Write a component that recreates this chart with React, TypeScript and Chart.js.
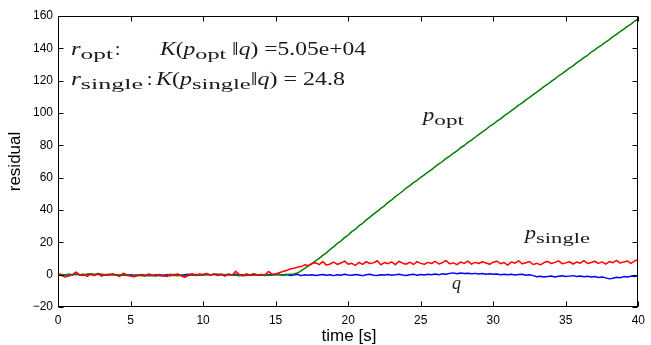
import React, { useEffect, useRef } from "react";
import { Chart, registerables } from "chart.js";

Chart.register(...registerables);

const TIME_STEP = 0.25;

const X_TICKS = [0, 5, 10, 15, 20, 25, 30, 35, 40];
const Y_TICKS = [-20, 0, 20, 40, 60, 80, 100, 120, 140, 160];

// p_single (red)
const pSingle = [
  0.5, -0.5, -1.5, -0.8, 0.2, 1.6, -0.2, 0.4, -1.0, 0.3,
  -0.6, 0.8, -0.9, 0.1, -0.4, 0.6, -0.3, -1.1, 0.9, -0.2,
  -0.8, -1.3, -0.5, 0.2, -0.6, 0.4, -0.3, -0.9, 0.1, -0.7,
  -1.2, 0.3, -0.4, 0.5, -0.8, -1.6, -0.2, 0.6, -0.5, 0.4,
  0.1, 0.8, -0.3, 0.5, -0.6, 0.3, -0.9, 0.2, -0.4, 2.1,
  0.0, -0.7, 0.4, -0.5, 0.6, -0.3, 0.2, -0.6, 2.0, 0.3,
  0.4,
  1.2, 2.0, 2.6, 3.5, 3.9, 4.6, 5.0, 6.1, 5.6, 6.9,
  7.4, 6.2, 8.1, 5.9, 6.6, 7.8, 6.3, 7.2, 8.4, 6.5,
  7.0, 5.8, 7.6, 6.4, 8.0, 6.9, 7.3, 8.6, 6.1, 7.5,
  6.8, 7.9, 6.2, 8.3, 7.1, 6.5, 7.7, 6.3, 8.1, 7.0,
  6.4, 7.6, 6.9, 8.2, 6.6, 7.4, 8.8, 6.7, 7.3, 6.2,
  7.8, 7.0, 8.4, 6.5, 7.6, 6.9, 8.0, 7.2, 6.4, 7.7,
  8.3, 6.8, 7.5, 5.9, 7.9, 7.1, 8.6, 6.7, 7.4, 8.1,
  6.3, 7.0, 6.1, 7.5, 8.2, 6.9, 7.6, 8.5, 6.8, 7.3,
  8.0, 6.6, 7.8, 7.1, 8.7, 6.9, 7.5, 8.3, 7.0, 7.9,
  6.5, 8.1, 7.4, 8.8, 7.2, 7.9, 8.4, 7.0, 8.6, 9.3,
];

// p_opt (green)
const pOpt = [
  0.3, 0.1, -0.2, 0.2, -0.1, 0.4, 0.0, -0.3, 0.2, 0.5,
  0.1, 0.6, 0.2, -0.1, 0.3, -0.2, 0.0, -0.4, -0.1, -0.5,
  -0.3, -0.7, -0.4, -0.6, -0.9, -0.5, -0.7, -0.3, -0.6, -0.9,
  -0.5, -0.7, -0.4, -0.6, -0.3, -0.8, -0.5, -0.2, -0.4, -0.1,
  -0.3, 0.1, -0.2, 0.2, 0.0, 0.3, -0.1, 0.2, -0.2, -0.4,
  -0.6, -0.3, -0.5, -0.2, -0.4, 0.0, -0.3, -0.1, -0.4, -0.2,
  -0.1,
  0.1, -0.2, 0.0, 0.2,
  0.4, 1.0, 2.3, 3.9, 5.4, 6.7, 8.6, 10.1,
  11.9, 13.5, 15.6, 17.2, 19.3, 20.8, 22.9, 24.5, 26.6, 28.1, 30.3, 31.8,
  33.9, 35.6, 37.4, 39.1, 41.0, 42.6, 44.7, 46.2, 48.3, 49.9, 51.6, 53.6,
  55.1, 56.9, 58.4, 60.2, 61.7, 63.5, 65.0, 66.8,
  68.5, 70.0, 71.9, 73.3, 75.1, 76.6, 78.5, 79.9,
  81.8, 83.2, 85.0, 86.6, 88.3, 89.8, 91.7, 93.1,
  94.9, 96.4, 98.2, 99.7, 101.5, 103.0, 104.9, 106.3,
  108.1, 109.6, 111.4, 112.9, 114.6, 116.3, 117.8, 119.6,
  121.1, 122.9, 124.4, 126.1, 127.8, 129.2, 131.0, 132.5,
  134.3, 135.7, 137.6, 139.0, 140.8, 142.1, 143.9, 145.4,
  147.2, 148.6, 150.4, 151.9, 153.6, 155.0, 156.9, 158.3,
];

// q (blue)
const qRef = [
  0.2, 0.0, -0.2, 0.1, -0.1, 0.3, 0.0, -0.2, 0.1, 0.2,
  -0.1, 0.3, 0.1, -0.2, 0.0, 0.2, -0.1, -0.3, 0.0, -0.2,
  -0.1, -0.4, -0.2, 0.0, -0.3, -0.1, -0.4, -0.2, 0.0, -0.3,
  -0.1, -0.2, 0.1, -0.1, -0.3, 0.0, 0.2, -0.1, 0.1, -0.2,
  0.0, 0.2, -0.1, 0.1, 0.3, 0.0, -0.2, 0.1, -0.1, 0.2,
  0.0, -0.2, 0.1, -0.1, 0.2, 0.0, -0.3, 0.1, -0.1, 0.0,
  0.2,
  0.1, -0.3, 0.2, -0.5, -0.2, 0.3, -0.6, -0.1, -0.4, 0.0,
  -0.5, -0.2, 0.1, -0.4, -0.1, -0.6, 0.0, -0.3, 0.2, -0.2,
  -0.4, 0.1, -0.2, -0.6, -0.1, 0.2, -0.3, -0.5, 0.0, -0.2,
  0.1, -0.4, -0.1, 0.3, -0.2, -0.5, 0.0, 0.2, -0.3, 0.1,
  -0.2, 0.3, 0.0, 0.4, -0.1, 0.5, 0.2, 0.8, 1.1, 0.6,
  1.0, 0.7, 0.9, 0.5, 0.8, 0.4, 0.7, 0.3, 0.6, 0.2,
  0.4, 0.0, 0.3, -0.1, 0.2, -0.2, 0.1, 0.3, -0.3, -0.1,
  -0.6, -1.3, -1.0, -1.5, -1.1, -0.8, -1.4, -1.0, -0.7, -1.2,
  -0.9, -0.6, -1.1, -0.8, -1.3, -1.0, -1.5, -1.2, -1.7, -1.4,
  -2.0, -2.6, -2.2, -1.6, -1.9, -1.2, -1.5, -0.9, -1.1, -0.6,
];

const SANS = "'Liberation Sans', Arial, Helvetica, sans-serif";
const SERIF = "'Liberation Serif', 'Times New Roman', serif";

type Part = { t: string; it?: boolean; sub?: boolean };

const MAIN_SIZE = 19;
const SUB_SIZE = 15;
const SUB_STRETCH = 1.3;
const SUB_SHIFT = 4;

function partFont(p: Part) {
  const size = p.sub ? SUB_SIZE : MAIN_SIZE;
  return `${p.it ? "italic " : ""}${size}px ${SERIF}`;
}

function partWidth(ctx: CanvasRenderingContext2D, p: Part) {
  ctx.font = partFont(p);
  return ctx.measureText(p.t).width * (p.sub ? SUB_STRETCH : 1);
}

function drawMath(ctx: CanvasRenderingContext2D, x: number, y: number, parts: Part[], targetW?: number) {
  let natural = 0;
  for (const p of parts) natural += partWidth(ctx, p);
  const sx = targetW ? targetW / natural : 1;
  ctx.save();
  ctx.translate(x, y);
  ctx.scale(sx, 1);
  let cx = 0;
  for (const p of parts) {
    ctx.font = partFont(p);
    if (p.sub) {
      ctx.save();
      ctx.translate(cx, SUB_SHIFT);
      ctx.scale(SUB_STRETCH, 1);
      ctx.fillText(p.t, 0, 0);
      ctx.restore();
    } else {
      ctx.fillText(p.t, cx, 0);
    }
    cx += partWidth(ctx, p);
  }
  ctx.restore();
}

const frameAndText = {
  id: "frameAndText",
  afterDraw(chart: any) {
    const { ctx, chartArea } = chart;
    const { left, right, top, bottom } = chartArea;
    const xs = chart.scales.x;
    const ys = chart.scales.y;
    ctx.save();
    ctx.strokeStyle = "#000";
    ctx.lineWidth = 1;
    const L = Math.round(left) + 0.5;
    const R = Math.round(right) - 0.5;
    const T = Math.round(top) + 0.5;
    const B = Math.round(bottom) - 0.5;
    ctx.strokeRect(L, T, R - L, B - T);
    const TL = 5;
    ctx.beginPath();
    for (const v of X_TICKS) {
      const px = Math.round(xs.getPixelForValue(v)) + 0.5;
      ctx.moveTo(px, B);
      ctx.lineTo(px, B - TL);
      ctx.moveTo(px, T);
      ctx.lineTo(px, T + TL);
    }
    for (const v of Y_TICKS) {
      const py = Math.round(ys.getPixelForValue(v)) + 0.5;
      ctx.moveTo(L, py);
      ctx.lineTo(L + TL, py);
      ctx.moveTo(R, py);
      ctx.lineTo(R - TL, py);
    }
    ctx.stroke();

    // axis titles
    ctx.fillStyle = "#000";
    ctx.font = `17px ${SANS}`;
    ctx.textAlign = "center";
    ctx.textBaseline = "alphabetic";
    ctx.fillText("time [s]", 349, 341);
    ctx.save();
    ctx.translate(20, (top + bottom) / 2);
    ctx.rotate(-Math.PI / 2);
    ctx.fillText("residual", 0, 0);
    ctx.restore();

    // annotations
    ctx.textAlign = "left";
    ctx.fillStyle = "#1a1a1a";
    drawMath(ctx, 71, 55, [{ t: "r", it: true }, { t: "opt", sub: true }], 42);
    drawMath(ctx, 115, 55, [{ t: ":" }]);
    drawMath(ctx, 160, 55, [
      { t: "K", it: true }, { t: "(" }, { t: "p", it: true }, { t: "opt", sub: true },
      { t: " \u2016" }, { t: "q", it: true }, { t: ")" }, { t: " =5.05e+04" },
    ], 206);
    drawMath(ctx, 71, 85, [{ t: "r", it: true }, { t: "single", sub: true }], 72);
    drawMath(ctx, 147, 85, [{ t: ":" }]);
    drawMath(ctx, 156, 85, [
      { t: "K", it: true }, { t: "(" }, { t: "p", it: true }, { t: "single", sub: true },
      { t: "\u2016" }, { t: "q", it: true }, { t: ")" }, { t: " = 24.8" },
    ], 189);
    drawMath(ctx, 423, 121, [{ t: "p", it: true }, { t: "opt", sub: true }], 41);
    drawMath(ctx, 525, 239, [{ t: "p", it: true }, { t: "single", sub: true }], 65);
    drawMath(ctx, 452, 289, [{ t: "q", it: true }], 9);
    ctx.restore();
  },
};

export default function App() {
  const ref = useRef<HTMLCanvasElement | null>(null);
  useEffect(() => {
    if (!ref.current) return;
    const toPts = (arr: number[]) => arr.map((v, i) => ({ x: i * TIME_STEP, y: v }));
    const chart = new Chart(ref.current, {
      type: "line",
      data: {
        datasets: [
          { label: "p_single", data: toPts(pSingle), borderColor: "#ff0000", borderWidth: 1.5 },
          { label: "p_opt", data: toPts(pOpt), borderColor: "#008000", borderWidth: 1.5 },
          { label: "q", data: toPts(qRef), borderColor: "#0000ff", borderWidth: 1.5 },
        ],
      },
      options: {
        animation: false,
        responsive: false,
        devicePixelRatio: 1,
        parsing: false as any,
        elements: { point: { radius: 0 }, line: { tension: 0, borderJoinStyle: "round" } },
        layout: { padding: { top: 16, right: 9, left: 0, bottom: 0 } },
        plugins: { legend: { display: false }, tooltip: { enabled: false } },
        scales: {
          x: {
            type: "linear",
            min: 0,
            max: 40,
            afterBuildTicks: (s: any) => { s.ticks = X_TICKS.map((v) => ({ value: v })); },
            afterFit: (s: any) => { s.height = 38; },
            grid: { display: false, drawTicks: false },
            border: { display: false },
            ticks: { color: "#000", padding: 6, font: { family: SANS, size: 12 }, maxRotation: 0 },
          },
          y: {
            type: "linear",
            min: -20,
            max: 160,
            afterBuildTicks: (s: any) => { s.ticks = Y_TICKS.map((v) => ({ value: v })); },
            afterFit: (s: any) => { s.width = 58; },
            grid: { display: false, drawTicks: false },
            border: { display: false },
            ticks: {
              color: "#000",
              padding: 5,
              font: { family: SANS, size: 12 },
              callback: (v: any) => (Number(v) < 0 ? "\u2212" + Math.abs(Number(v)) : String(v)),
            },
          },
        },
      },
      plugins: [frameAndText],
    });
    return () => chart.destroy();
  }, []);
  return (
    <div style={{ position: "absolute", left: 0, top: 0, width: 651, height: 345, background: "#fff" }}>
      <canvas ref={ref} width={651} height={345} style={{ display: "block" }} />
    </div>
  );
}
